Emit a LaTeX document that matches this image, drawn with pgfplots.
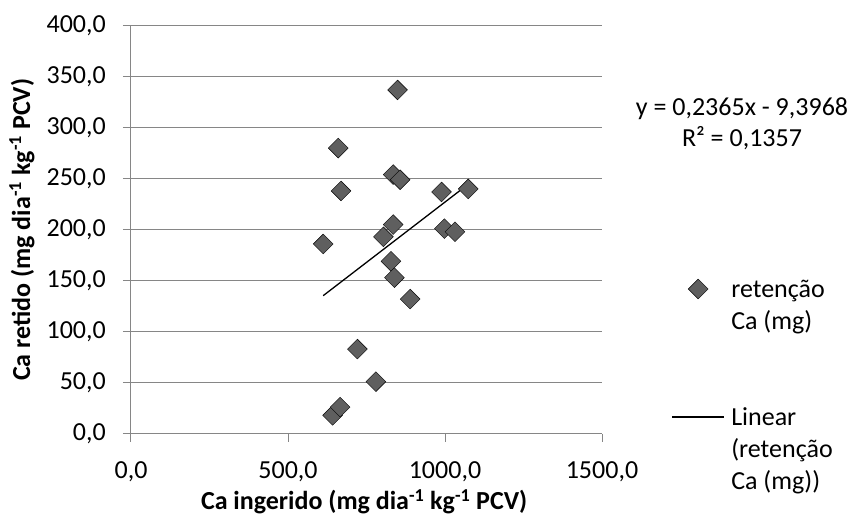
\documentclass[border=0pt]{standalone}
\usepackage{fontspec}
\setmainfont{Carlito}
\usepackage{pgfplots}
\pgfplotsset{compat=1.18}
\usetikzlibrary{calc}

\definecolor{axisgray}{RGB}{134,134,134}
\definecolor{markgray}{RGB}{95,95,95}

\begin{document}
\fontsize{26bp}{32bp}\selectfont
\begin{tikzpicture}
\begin{axis}[
    scale only axis,
    width=471bp, height=408bp,
    xmin=0, xmax=1500, ymin=0, ymax=400,
    xtick={0,500,1000,1500},
    ytick={0,50,...,400},
    axis x line*=bottom, axis y line*=left,
    axis line style={draw=axisgray, line width=1bp},
    ymajorgrids,
    grid style={draw=axisgray, line width=1bp},
    tick align=outside,
    major tick length=8bp,
    tick style={draw=axisgray, line width=1bp},
    /pgf/number format/fixed,
    /pgf/number format/fixed zerofill,
    /pgf/number format/precision=1,
    /pgf/number format/use comma,
    /pgf/number format/1000 sep={},
    /pgf/number format/assume math mode=true,
    yticklabel style={anchor=east, inner sep=0pt, xshift=-17bp},
    xticklabel style={anchor=north, inner sep=0pt, yshift=-20bp},
    xlabel={\bfseries Ca ingerido (mg dia\textsuperscript{-1} kg\textsuperscript{-1} PCV)},
    ylabel={\bfseries Ca retido (mg dia\textsuperscript{-1} kg\textsuperscript{-1} PCV)},
    xlabel style={at={(axis description cs:0.495,-0.187)}, anchor=base, inner sep=0pt},
    ylabel style={at={(axis description cs:-0.2144,0.5)}, anchor=base, rotate=0, inner sep=0pt},
    clip=false,
    legend cell align=left,
    legend image code/.code={
        \draw[mark repeat=2, mark phase=2, #1]
            plot coordinates {(0bp,0bp) (25.8bp,0bp) (51.6bp,0bp)};
    },
    legend style={
        at={(axis description cs:1.148,0.3865)}, anchor=north west,
        draw=none, fill=none, inner sep=0pt, outer sep=0pt,
        column sep=6.7bp, row sep=6bp,
        nodes={inner sep=0pt, outer sep=0pt, text height=21bp, text depth=5bp},
    },
]
\coordinate (O) at (rel axis cs:0,0);

\addplot[only marks, mark=square*, mark size=7bp,
    mark options={rotate=45, fill=markgray, draw=none}]
coordinates {
    (849,337) (660,280) (669,238) (612,186) (835,254)
    (857,249) (989,237) (1074,240) (835,205) (804,193)
    (998,201) (1032,198) (828,169) (839,153) (889,132)
    (721,83) (780,51) (642,18) (666,26)
};
\addlegendentry{retenção}
\addlegendimage{empty legend}\addlegendentry{Ca (mg)}
\addlegendimage{empty legend}\addlegendentry{}
\addlegendimage{empty legend}\addlegendentry{}

\addplot[black, line width=1.3bp] coordinates {(612,135.3) (1074,244.6)};
\addlegendentry{Linear}
\addlegendimage{empty legend}\addlegendentry{(retenção}
\addlegendimage{empty legend}\addlegendentry{Ca (mg))}

\node[anchor=base, inner sep=0pt] at (axis description cs:1.2972,0.7811) {y = 0,2365x - 9,3968};
\node[anchor=base, inner sep=0pt] at (axis description cs:1.2972,0.7027) {R² = 0,1357};
\end{axis}
\pgfresetboundingbox
\path[use as bounding box] ($(O)+(-131bp,-89.3bp)$) rectangle ++(853bp,523bp);
\end{tikzpicture}
\end{document}
